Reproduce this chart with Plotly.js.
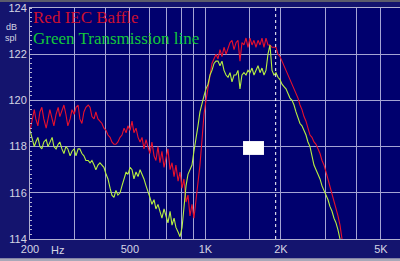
<!DOCTYPE html>
<html>
<head>
<meta charset="utf-8">
<script src="https://cdn.plot.ly/plotly-3.0.1.min.js"></script>
<style>
html,body{margin:0;padding:0;background:#14146e;}
#chart{width:400px;height:261px;}
</style>
</head>
<body>
<div id="chart"></div>
<script>
// Frequencies (Hz) sampled along the log axis
const freqs = [200,204,208,211,215,219,223,227,232,236,240,245,249,254,259,263,268,273,278,283,
289,294,300,305,311,316,322,328,334,341,347,353,360,366,373,380,387,394,402,409,
417,424,432,440,448,457,465,474,483,491,501,510,519,529,539,549,559,569,580,590,
601,612,624,635,647,659,671,684,696,709,723,736,750,763,778,792,807,821,837,852,
868,884,900,917,934,951,969,987,1005,1024,1043,1062,1082,1102,1122,1143,1164,1186,1208,1230,
1253,1276,1300,1324,1348,1373,1398,1424,1451,1478,1505,1533,1561,1590,1620,1650,1680,1711,1743,1775,
1808,1842,1876,1910,1946,1982,2019,2056,2094,2133,2172,2213,2254,2295,2338,2381,2425,2470,2516,2562,
2610,2658,2707,2758,2809,2861,2914,2968,3023,3079,3136,3194,3253,3313,3374,3437,3501];

const redIEC = [118.7,119.2,119.6,119.2,118.9,119.5,119.7,119.2,118.8,119.2,119.6,119.2,118.9,119.4,119.7,119.3,119.6,119.8,119.4,118.9,
119.2,119.6,119.4,119.7,119.8,119.2,119.0,119.5,119.7,119.8,119.7,119.3,119.2,119.5,119.2,119.1,119.0,118.8,118.7,118.5,
118.4,118.2,118.1,118.1,118.2,118.4,118.5,118.8,118.6,118.9,118.7,119.1,118.6,118.8,118.4,118.2,118.4,117.9,118.3,118.0,
117.7,118.2,117.6,117.4,118.0,117.3,117.8,117.1,117.5,117.9,117.0,117.3,116.7,117.2,116.5,116.9,116.2,116.6,115.6,115.9,
115.0,115.5,114.9,115.6,116.3,117.2,118.3,119.4,120.0,120.5,121.1,121.6,121.8,122.0,121.8,122.2,121.9,122.3,122.0,122.3,
122.5,122.6,122.2,122.5,122.6,121.7,122.5,122.4,122.7,122.3,122.7,122.4,122.6,122.3,122.6,122.4,122.7,122.3,122.7,122.4,
122.4,122.3,122.3,122.3,122.0,121.9,121.7,121.5,121.3,121.1,120.9,120.7,120.5,120.3,120.1,119.8,119.6,119.3,119.1,118.8,
118.5,118.4,118.2,118.1,117.9,117.7,117.4,117.2,116.9,116.6,116.3,116.0,115.7,115.3,115.0,114.6,114.0];

const greenTL = [118.7,118.3,118.0,118.2,118.4,118.0,117.9,118.2,118.3,118.0,118.2,118.4,118.0,117.9,118.1,118.2,117.9,117.7,118.0,117.9,
117.6,117.8,117.9,117.6,117.9,117.9,117.7,117.6,117.4,117.4,117.3,117.4,117.2,117.0,117.2,117.3,117.2,117.1,116.8,116.6,
116.2,115.9,115.8,116.1,115.9,116.0,116.3,116.6,116.9,116.8,117.1,117.0,116.6,116.9,116.7,117.0,116.8,116.6,116.3,116.0,
115.8,115.5,115.7,115.3,115.5,115.2,114.9,115.3,115.0,114.7,115.2,114.6,114.9,114.5,114.3,114.1,114.5,115.5,116.3,116.8,
117.0,117.2,117.8,118.3,118.9,119.5,119.9,120.2,120.5,120.7,121.1,121.3,121.6,121.7,121.7,121.5,121.7,121.3,121.1,121.0,
121.2,120.8,121.1,121.1,121.3,120.5,121.1,121.2,121.1,121.3,121.2,121.4,121.1,121.3,121.5,121.2,121.4,121.1,121.3,122.0,
122.4,121.3,121.1,121.2,121.0,120.9,120.7,120.6,120.5,120.3,120.1,120.0,119.8,119.5,119.2,119.0,118.9,118.7,118.5,118.2,
118.0,117.6,117.2,117.0,116.8,116.6,116.3,116.1,115.9,115.7,115.4,115.2,114.9,114.7,114.4,114.0];

const xTickVals = [200,300,400,500,600,700,800,900,1000,1500,2000,3000,4000,5000];
const xTickText = ['200','','','500','','','','','1K','','2K','','','5K'];
const yTickVals = [114,116,118,120,122,124];
const yTickText = ['114','116','118','120','122','124'];

const gridCol = '#a4a4d4';
const labelFont = {family:'Liberation Sans, Arial, sans-serif', size:11, color:'#d4d4e4'};
const smallFont = {family:'Liberation Sans, Arial, sans-serif', size:9, color:'#d4d4e4'};

const traces = [
  {x: freqs, y: redIEC, type:'scatter', mode:'lines', line:{color:'#e8102c', width:1.1}, hoverinfo:'skip'},
  {x: freqs.slice(0, greenTL.length), y: greenTL, type:'scatter', mode:'lines', line:{color:'#b8f040', width:1.1}, hoverinfo:'skip'}
];

const layout = {
  width:400, height:261,
  margin:{l:30, r:0, t:8, b:22},
  paper_bgcolor:'#14146e',
  plot_bgcolor:'#00006e',
  showlegend:false,
  font: labelFont,
  xaxis:{
    type:'log',
    range:[Math.log10(200), Math.log10(5960)],
    tickvals:xTickVals, ticktext:xTickText,
    showgrid:true, gridcolor:gridCol, gridwidth:1,
    showline:true, linecolor:'#b0b0d0', linewidth:1, mirror:true,
    ticks:'', zeroline:false, tickfont:labelFont, fixedrange:true
  },
  yaxis:{
    range:[114,124],
    tickvals:yTickVals, ticktext:yTickText,
    showgrid:true, gridcolor:gridCol, gridwidth:1,
    showline:true, linecolor:'#b0b0d0', linewidth:1, mirror:true,
    ticks:'', zeroline:false, tickfont:labelFont, fixedrange:true,
    minor:{dtick:0.2, ticks:'inside', ticklen:2, tickcolor:'#b0b0d0', showgrid:false}
  },
  shapes:[
    {type:'line', xref:'x', yref:'paper', x0:1905, x1:1905, y0:0, y1:1,
     line:{color:'#ffffff', width:1, dash:'dot'}},
    {type:'rect', xref:'x', yref:'y', x0:1412, x1:1711, y0:117.64, y1:118.24,
     fillcolor:'#ffffff', line:{width:0}},
    {type:'rect', xref:'paper', yref:'paper', x0:-0.09, x1:1.01, y0:1.026, y1:1.05,
     fillcolor:'#5c5c6c', line:{width:0}, layer:'above'},
    {type:'rect', xref:'paper', yref:'paper', x0:-0.09, x1:1.01, y0:-0.11, y1:-0.083,
     fillcolor:'#a8a8b8', line:{width:0}, layer:'above'}
  ],
  annotations:[
    {xref:'paper', yref:'paper', x:0.003, y:0.957, xanchor:'left', yanchor:'middle', showarrow:false,
     text:'Red IEC Baffle', font:{family:'Liberation Serif, Times New Roman, serif', size:17, color:'#cc1030'}},
    {xref:'paper', yref:'paper', x:0.003, y:0.870, xanchor:'left', yanchor:'middle', showarrow:false,
     text:'Green Transmission line', font:{family:'Liberation Serif, Times New Roman, serif', size:17, color:'#14c83a'}},
    {xref:'paper', yref:'paper', x:-0.051, y:0.916, xanchor:'center', yanchor:'middle', showarrow:false,
     borderpad:0, text:'dB', font:smallFont},
    {xref:'paper', yref:'paper', x:-0.051, y:0.870, xanchor:'center', yanchor:'middle', showarrow:false,
     borderpad:0, text:'spl', font:smallFont},
    {xref:'paper', yref:'paper', x:0.073, y:-0.048, xanchor:'center', yanchor:'middle', showarrow:false,
     text:'Hz', font:labelFont}
  ]
};

Plotly.newPlot('chart', traces, layout, {staticPlot:true, displayModeBar:false});
</script>
</body>
</html>
